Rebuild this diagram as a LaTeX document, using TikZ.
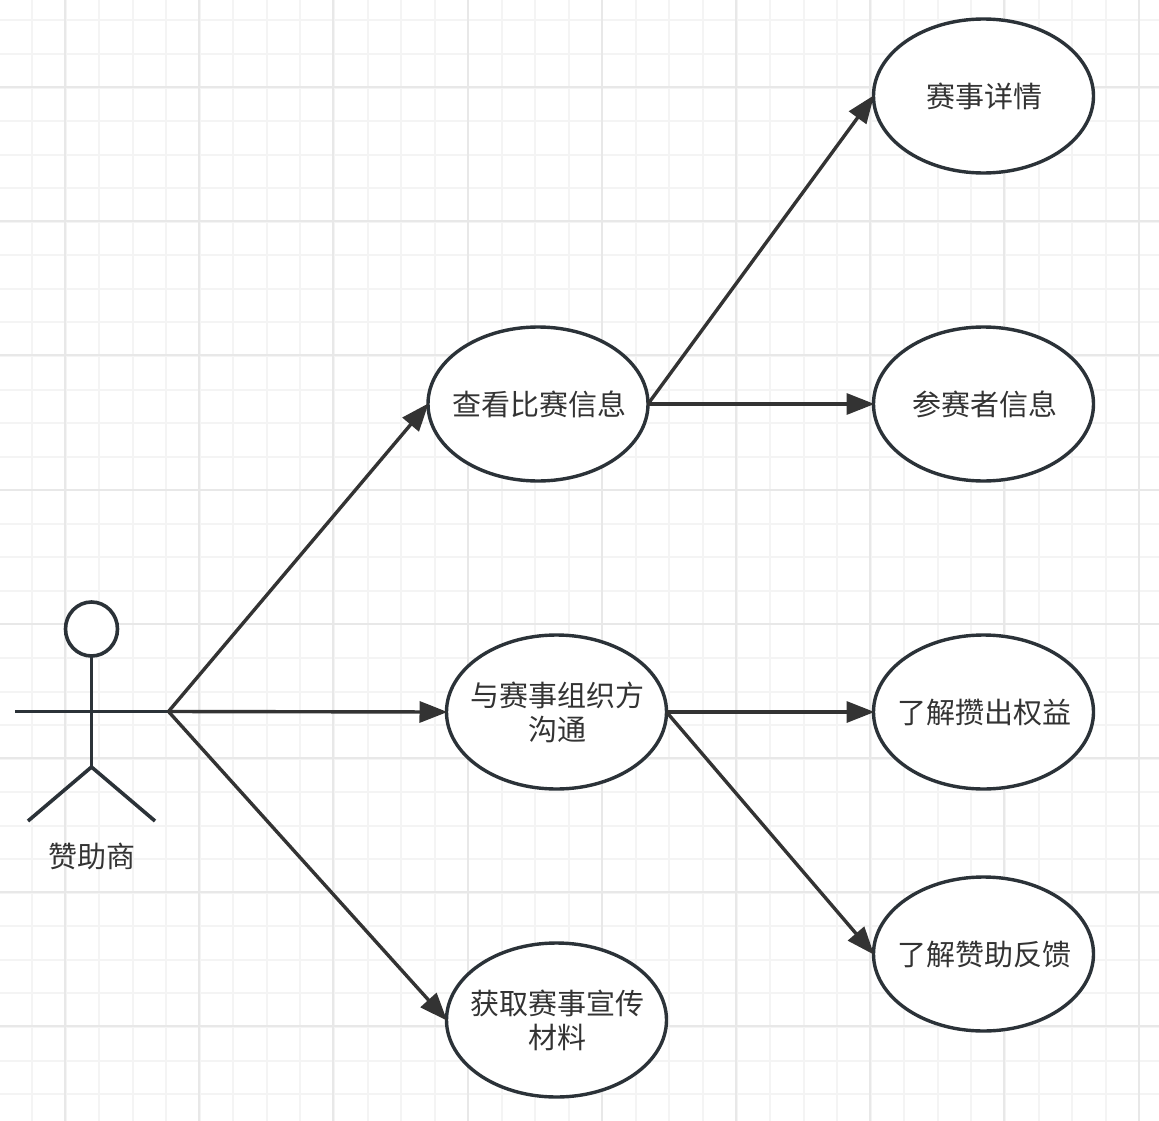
\documentclass[tikz,border=0pt]{standalone}
\usepackage{fontspec}
\setmainfont{Noto Sans CJK SC}
\usetikzlibrary{shapes.geometric,arrows.meta}
\definecolor{minorgrid}{HTML}{F4F4F4}
\definecolor{majorgrid}{HTML}{E8E8E8}
\definecolor{strokec}{HTML}{2B3238}
\definecolor{arrowc}{HTML}{333333}
\definecolor{textc}{HTML}{333333}
\tikzset{
  usecase/.style={ellipse,draw=strokec,line width=3.4pt,fill=white,minimum width=220pt,minimum height=154pt,inner sep=0pt,outer sep=0pt},
  casetext/.style={text=textc,font=\fontsize{29pt}{34.5pt}\selectfont,align=center,inner sep=0pt,xshift=1.2pt,yshift=-0.6pt},
  link/.style={draw=arrowc,line width=3.4pt,-{Triangle[length=28pt,width=21pt]},shorten >=-1pt},
  limb/.style={draw=strokec,line width=3.6pt},
  minorline/.style={draw=minorgrid,line width=2pt},
  majorline/.style={draw=majorgrid,line width=2pt},
}
\begin{document}
\begin{tikzpicture}[x=1pt,y=-1pt]
\useasboundingbox (0,0) rectangle (1159,1121);
\fill[white] (0,0) rectangle (1159,1121);
% grid
\foreach \i in {-1,...,33}{
  \pgfmathsetmacro\gx{32+33.55*\i}
  \draw[minorline] (\gx,0) -- (\gx,1121);
}
\foreach \i in {-1,...,33}{
  \pgfmathsetmacro\gy{20.5+33.55*\i}
  \draw[minorline] (0,\gy) -- (1159,\gy);
}
\foreach \i in {0,...,8}{
  \pgfmathsetmacro\gx{65+134.2*\i}
  \draw[majorline] (\gx,0) -- (\gx,1121);
}
\foreach \i in {0,...,7}{
  \pgfmathsetmacro\gy{87+134.2*\i}
  \draw[majorline] (0,\gy) -- (1159,\gy);
}
% use cases
\node[usecase,label={[casetext]center:查看比赛信息}] (look) at (538,404) {};
\node[usecase,label={[casetext]center:与赛事组织方\\沟通}] (talk) at (556.5,712) {};
\node[usecase,label={[casetext]center:获取赛事宣传\\材料}] (mat) at (556.5,1020) {};
\node[usecase,label={[casetext]center:赛事详情}] (detail) at (983.5,96) {};
\node[usecase,label={[casetext]center:参赛者信息}] (part) at (983.5,404) {};
\node[usecase,label={[casetext]center:了解攒出权益}] (right) at (983.5,712) {};
\node[usecase,label={[casetext]center:了解赞助反馈}] (feed) at (983.5,954) {};
% actor
\node[ellipse,draw=strokec,line width=3.6pt,fill=white,minimum width=52pt,minimum height=54pt,inner sep=0pt,outer sep=0pt] (head) at (91.5,629) {};
\coordinate (crotch) at (91.5,767);
\coordinate (lhand) at (15,711.5);
\coordinate (rhand) at (168.5,711.5);
\coordinate (lfoot) at (28,821);
\coordinate (rfoot) at (155,821);
\draw[limb] (head.south) -- (crotch);
\draw[limb] (lhand) -- (rhand);
\draw[limb] (lfoot) -- (crotch) -- (rfoot);
\node[text=textc,font=\fontsize{29pt}{34pt}\selectfont,inner sep=0pt] (actorlabel) at (91.5,856) {赞助商};
% connectors
\draw[link] (rhand) -- (look.west);
\draw[link] (rhand) -- (talk.west);
\draw[link] (rhand) -- (mat.west);
\draw[link] (look.east) -- (detail.west);
\draw[link] (look.east) -- (part.west);
\draw[link] (talk.east) -- (right.west);
\draw[link] (talk.east) -- (feed.west);
\end{tikzpicture}
\end{document}
